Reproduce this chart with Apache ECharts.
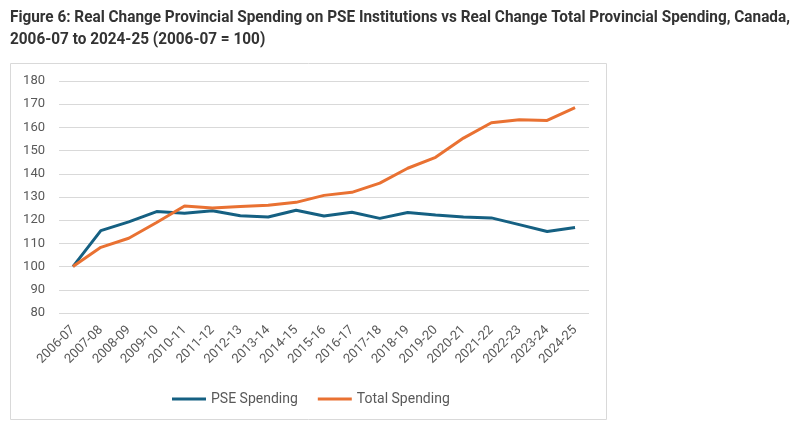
<!DOCTYPE html>
<html><head><meta charset="utf-8">
<script src="https://cdn.jsdelivr.net/npm/echarts@6/dist/echarts.min.js"></script>
<style>html,body{margin:0;padding:0;background:#fff}#c{width:804px;height:428px}</style>
</head><body><div id="c"></div>
<script>
const categories = ['2006-07','2007-08','2008-09','2009-10','2010-11','2011-12','2012-13','2013-14','2014-15','2015-16','2016-17','2017-18','2018-19','2019-20','2020-21','2021-22','2022-23','2023-24','2024-25'];
const pseSpending = [100,115.5,119.3,123.7,123.0,124.1,121.9,121.4,124.3,121.8,123.4,120.8,123.3,122.2,121.4,121.0,118.1,115.1,116.9];
const totalSpending = [100,108.3,112.2,119.0,126.1,125.3,125.9,126.4,127.7,130.7,132.0,136.0,142.4,147.1,155.4,162.0,163.3,163.0,168.5];
const yTicks = {min:80, max:180, interval:10};
const titleLine1 = 'Figure 6: Real Change Provincial Spending on PSE Institutions vs Real Change Total Provincial Spending, Canada,';
const titleLine2 = '2006-07 to 2024-25 (2006-07 = 100)';

const titleFont = 'bold 17px Roboto';
const cv = document.createElement('canvas').getContext('2d');
cv.font = titleFont;
const sx = 780 / cv.measureText(titleLine1).width;

const chart = echarts.init(document.getElementById('c'));
chart.setOption({
  animation:false,
  graphic:[
    {type:'rect', shape:{x:10.5,y:63.5,width:596,height:356}, style:{fill:'none', stroke:'#d9d9d9', lineWidth:1}, z:-1},
    {type:'text', x:10, y:18, scaleX:sx, originX:0, style:{text:titleLine1, font:titleFont, fill:'#333', textVerticalAlign:'middle', verticalAlign:'middle'}},
    {type:'text', x:10, y:40, scaleX:sx, originX:0, style:{text:titleLine2, font:titleFont, fill:'#333', textVerticalAlign:'middle', verticalAlign:'middle'}}
  ],
  grid:{left:59, right:215, top:81, bottom:115},
  legend:{left:167, top:387, itemWidth:34, itemHeight:3, itemGap:20, icon:'rect',
    textStyle:{fontFamily:'Roboto, sans-serif', fontSize:14, color:'#595959'},
    data:['PSE Spending','Total Spending']},
  xAxis:{type:'category', data:categories, boundaryGap:true,
    axisLine:{show:false}, axisTick:{show:false},
    axisLabel:{rotate:45, margin:15, fontFamily:'Roboto, sans-serif', fontSize:13, color:'#595959'}},
  yAxis:{type:'value', min:yTicks.min, max:yTicks.max, interval:yTicks.interval,
    axisLine:{show:false}, axisTick:{show:false},
    axisLabel:{margin:14, fontFamily:'Roboto, sans-serif', fontSize:13, color:'#595959'},
    splitLine:{lineStyle:{color:'#d9d9d9', width:1}}},
  series:[
    {name:'PSE Spending', type:'line', data:pseSpending, symbol:'none', lineStyle:{color:'#156082', width:3}, itemStyle:{color:'#156082'}},
    {name:'Total Spending', type:'line', data:totalSpending, symbol:'none', lineStyle:{color:'#E97132', width:3}, itemStyle:{color:'#E97132'}}
  ]
});
</script></body></html>
